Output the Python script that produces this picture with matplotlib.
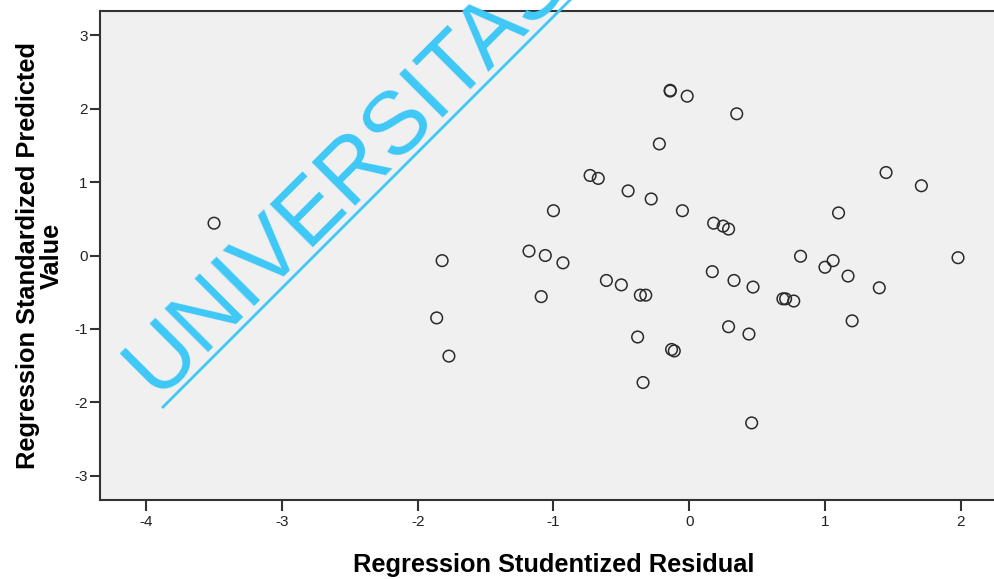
import matplotlib
matplotlib.use("Agg")
import matplotlib.pyplot as plt
from matplotlib.lines import Line2D

# Regression Studentized Residual (x) vs Regression Standardized Predicted Value (y)
residual = [-3.50, -1.82, -1.86, -1.77, -1.18, -1.06, -0.93, -1.09, -1.00,
            -0.73, -0.67, -0.45, -0.28, -0.05, -0.14, -0.14, -0.015, -0.22,
            0.35, -0.61, -0.50, -0.36, -0.32, -0.38, -0.13, -0.11, -0.34,
            0.18, 0.25, 0.29, 0.17, 0.33, 0.47, 0.69, 0.71, 0.77, 0.82,
            1.06, 1.00, 1.17, 1.40, 1.98, 1.20, 0.29, 0.44, 0.46, 1.10,
            1.45, 1.71]
predicted = [0.44, -0.07, -0.85, -1.37, 0.06, 0.00, -0.10, -0.56, 0.61,
             1.09, 1.05, 0.88, 0.77, 0.61, 2.25, 2.24, 2.17, 1.52,
             1.93, -0.34, -0.40, -0.54, -0.54, -1.11, -1.28, -1.30, -1.73,
             0.44, 0.40, 0.36, -0.22, -0.34, -0.43, -0.59, -0.59, -0.62, -0.01,
             -0.07, -0.16, -0.28, -0.44, -0.03, -0.89, -0.97, -1.07, -2.28, 0.58,
             1.13, 0.95]

xticks = [-4, -3, -2, -1, 0, 1, 2]
yticks = [-3, -2, -1, 0, 1, 2, 3]

W, H = 994, 579
plt.rcParams['font.family'] = ['Liberation Sans', 'DejaVu Sans']
plt.rcParams['axes.unicode_minus'] = False
fig = plt.figure(figsize=(W / 100, H / 100), dpi=100)

ax = fig.add_axes([100 / W, 79 / H, (W - 100) / W, 489 / H])
ax.set_facecolor('#f0f0f0')
ax.scatter(residual, predicted, s=70, facecolors='none', edgecolors='#2a2a2a',
           linewidths=1.1, zorder=3)

ax.set_xlim(-4.34, 2.245)
ax.set_ylim(-3.33, 3.33)
ax.set_xticks(xticks)
ax.set_yticks(yticks)
ax.tick_params(direction='out', width=1.5, color='#333333',
               labelsize=11, labelcolor='#222222')
ax.tick_params(axis='x', length=8, pad=3)
ax.tick_params(axis='y', length=7, pad=2)
for side in ('left', 'bottom', 'top'):
    ax.spines[side].set_linewidth(1.5)
    ax.spines[side].set_color('#333333')
ax.spines['right'].set_visible(False)

ax.set_xlabel('Regression Studentized Residual', fontsize=18.3, fontweight='bold')
ax.xaxis.set_label_coords(0.508, -0.108)
ax.set_ylabel('Regression Standardized Predicted\nValue', fontsize=18.3,
              fontweight='bold', linespacing=1.0)
ax.yaxis.set_label_coords(-0.040, 0.5)

# watermark
wm_color = '#3ec8f7'
fig.text(156 / W, 1 - 397 / H, 'UNIVERSITAS', rotation=45,
         rotation_mode='anchor', ha='left', va='baseline', fontsize=64,
         color=wm_color, zorder=10)
fig.add_artist(Line2D([163 / W, 600 / W], [1 - 407 / H, 1 - (407 - 437) / H],
                      transform=fig.transFigure, color=wm_color, linewidth=2,
                      zorder=10))

fig.savefig('out.png', dpi=100)
